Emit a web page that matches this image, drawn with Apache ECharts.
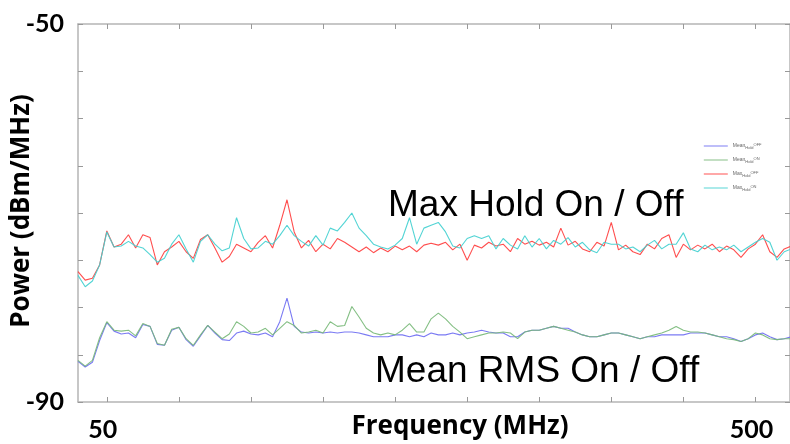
<!DOCTYPE html>
<html><head><meta charset="utf-8">
<script src="https://cdn.jsdelivr.net/npm/echarts@6/dist/echarts.min.js"></script>
<style>html,body{margin:0;padding:0;background:#fff}#c{width:790px;height:444px}</style>
</head><body><div id="c"></div>
<script>
const freq = [30,35,40,45,50,55,60,65,70,75,80,85,90,95,100,105,110,115,120,125,130,135,140,145,150,
155,160,165,170,175,180,185,190,195,200,205,210,215,220,225,230,235,240,245,250,255,260,265,270,275,
280,285,290,295,300,305,310,315,320,325,330,335,340,345,350,355,360,365,370,375,380,385,390,395,400,
405,410,415,420,425,430,435,440,445,450,455,460,465,470,475,480,485,490,495,500,505,510,515,520,525];

const meanOff = [-85.7,-86.3,-85.8,-83.5,-81.6,-82.5,-82.8,-82.7,-83.2,-81.8,-82.0,-83.9,-84.0,-82.4,-82.1,-83.4,-84.1,-83.0,-81.9,-82.7,-83.4,-83.5,-82.7,-82.5,-82.8,
-82.9,-82.7,-83.1,-81.5,-79.0,-82.0,-82.6,-82.7,-82.6,-82.7,-82.6,-82.7,-82.6,-82.6,-82.7,-82.9,-83.1,-83.1,-83.1,-82.9,-82.9,-83.1,-82.9,-83.1,-82.7,
-82.9,-82.9,-82.7,-82.9,-82.7,-82.6,-82.4,-82.6,-82.7,-82.7,-83.1,-83.1,-82.6,-82.4,-82.4,-82.2,-82.0,-82.2,-82.2,-82.6,-82.9,-83.1,-83.1,-82.9,-82.7,
-82.7,-82.9,-83.1,-83.3,-83.1,-83.1,-82.9,-82.9,-82.9,-82.9,-82.7,-82.7,-82.7,-82.9,-83.1,-83.1,-83.3,-83.6,-83.3,-82.9,-82.7,-83.1,-83.4,-83.3,-83.1];

const meanOn = [-85.6,-86.2,-85.6,-83.2,-81.5,-82.4,-82.5,-82.4,-83.0,-81.7,-82.0,-83.8,-84.0,-82.3,-82.1,-83.3,-84.0,-82.9,-81.9,-82.6,-83.3,-82.8,-81.5,-82.0,-82.7,
-82.6,-82.2,-82.9,-82.2,-81.5,-81.9,-82.7,-82.6,-82.4,-82.7,-81.5,-82.0,-81.9,-79.9,-81.0,-82.2,-82.7,-82.9,-82.7,-82.9,-82.4,-81.7,-82.6,-82.6,-81.2,
-80.6,-81.2,-82.0,-82.6,-83.3,-83.1,-82.9,-82.7,-82.7,-82.6,-82.7,-83.3,-82.6,-82.4,-82.4,-82.2,-82.0,-82.2,-82.4,-82.6,-82.9,-83.1,-83.1,-82.9,-82.7,
-82.7,-82.9,-83.1,-83.3,-83.1,-82.9,-82.7,-82.4,-82.0,-82.4,-82.6,-82.6,-82.7,-82.9,-83.1,-83.3,-83.4,-83.6,-83.3,-82.7,-82.9,-83.3,-83.4,-83.3,-83.3];

const maxOff = [-76.2,-77.1,-76.9,-75.5,-71.9,-73.6,-73.3,-72.3,-73.7,-72.3,-72.6,-75.5,-74.1,-73.6,-73.0,-74.1,-74.8,-72.8,-72.3,-73.7,-75.2,-74.6,-73.3,-73.7,-74.1,
-73.1,-72.4,-73.7,-71.3,-68.6,-72.0,-73.7,-72.9,-74.1,-73.3,-73.8,-72.7,-73.1,-73.6,-74.1,-73.6,-74.2,-73.7,-74.1,-73.5,-73.9,-73.5,-74.1,-73.4,-73.2,
-73.4,-73.1,-73.9,-73.3,-75.0,-73.4,-73.7,-73.1,-73.5,-73.3,-74.1,-72.7,-73.3,-73.0,-73.4,-73.1,-73.6,-71.6,-73.4,-73.0,-73.8,-74.1,-73.1,-73.5,-71.0,
-73.9,-73.4,-74.1,-74.4,-73.3,-73.8,-72.7,-72.3,-74.7,-73.3,-73.9,-73.4,-73.8,-73.3,-74.1,-73.5,-73.9,-74.7,-73.8,-73.3,-72.3,-74.1,-74.7,-73.8,-73.5];

const maxOn = [-76.6,-77.8,-77.2,-75.5,-72.0,-73.6,-73.5,-73.0,-73.5,-73.7,-74.4,-75.2,-74.8,-73.3,-72.3,-73.8,-75.2,-73.0,-72.3,-73.3,-74.0,-73.7,-70.5,-72.7,-73.8,
-73.7,-73.0,-73.3,-72.4,-71.3,-72.4,-73.0,-73.5,-72.4,-73.4,-71.6,-71.9,-71.0,-70.0,-71.6,-72.4,-73.3,-73.6,-73.8,-73.4,-72.7,-70.5,-73.3,-71.6,-71.3,
-71.0,-72.0,-73.5,-73.7,-72.7,-72.4,-72.7,-72.4,-73.8,-72.7,-73.4,-73.8,-72.4,-73.6,-72.7,-73.8,-72.9,-73.3,-72.6,-73.6,-73.1,-73.9,-74.2,-73.1,-73.3,
-73.3,-73.8,-73.6,-74.1,-73.4,-72.9,-73.8,-73.3,-73.3,-72.1,-73.8,-74.1,-73.4,-73.9,-73.6,-73.9,-73.4,-74.1,-73.6,-73.1,-72.7,-73.1,-75.0,-74.1,-73.8];

const xTickValues = [50,100,150,200,250,300,350,400,450,500];
const xLabelValues = [50,500];
const yLabelValues = [-90,-50];
const seriesNames = ['MeanOFF','MeanON','MaxOFF','MaxON'];
const legendLabels = {
  MeanOFF: 'Mean{s|Hold}{p|OFF}',
  MeanON: 'Mean{s|Hold}{p|ON}',
  MaxOFF: 'Max{s|Hold}{p|OFF}',
  MaxON: 'Max{s|Hold}{p|ON}'
};

const chart = echarts.init(document.getElementById('c'), null, {renderer:'canvas'});
function mk(name, vals, color) {
  return {
    name, type:'line', symbol:'none', showSymbol:false, animation:false,
    data: freq.map((f,i)=>[f, vals[i]]),
    lineStyle:{color, width:1.1, opacity:0.9},
    itemStyle:{color}
  };
}
const tickStyle = {show:true, inside:true, length:5, lineStyle:{color:'#999', width:1}};
const lineStyle = {show:true, lineStyle:{color:'#b5b5b5', width:1.5}};
const labelFont = {fontFamily:'Lato', fontWeight:'bold', fontSize:25, color:'#000'};

chart.setOption({
  animation:false,
  backgroundColor:'#fff',
  grid:{left:78, top:24, width:712, bottom:42, containLabel:false},
  legend:{
    orient:'vertical', left:698, top:137, itemWidth:24, itemHeight:10, itemGap:6,
    data: seriesNames,
    itemStyle:{opacity:0},
    lineStyle:{width:1.6, opacity:0.55},
    formatter: n => legendLabels[n],
    textStyle:{fontSize:5, color:'#666', fontFamily:'Liberation Sans',
      rich:{s:{fontSize:4, color:'#666', verticalAlign:'bottom', padding:[3,0,0,0]}, p:{fontSize:4, color:'#666', verticalAlign:'top', padding:[0,0,3,0]}}}
  },
  xAxis:[
    {type:'value', min:30, max:524, position:'bottom', axisLine:lineStyle,
     axisTick:Object.assign({customValues:xTickValues}, tickStyle),
     axisLabel:Object.assign({customValues:xLabelValues, margin:15, padding:[0,8,0,0]}, labelFont),
     splitLine:{show:false}},
    {type:'value', min:30, max:524, position:'top', axisLine:lineStyle,
     axisTick:Object.assign({customValues:xTickValues}, tickStyle),
     axisLabel:{show:false}, splitLine:{show:false}}
  ],
  yAxis:[
    {type:'value', min:-90, max:-50, interval:5, position:'left', axisLine:lineStyle,
     axisTick:tickStyle,
     axisLabel:Object.assign({customValues:yLabelValues, margin:14}, labelFont),
     splitLine:{show:false}},
    {type:'value', min:-90, max:-50, interval:5, position:'right', axisLine:lineStyle,
     axisTick:tickStyle, axisLabel:{show:false}, splitLine:{show:false}}
  ],
  graphic:[
    {type:'text', x:388, y:206, style:{text:'Max Hold On / Off', font:'37px "Liberation Sans"', fill:'#000', align:'left', verticalAlign:'middle'}},
    {type:'text', x:375, y:372, style:{text:'Mean RMS On / Off', font:'37px "Liberation Sans"', fill:'#000', align:'left', verticalAlign:'middle'}},
    {type:'text', x:460, y:427, style:{text:'Frequency (MHz)', font:'bold 26px "Open Sans"', fill:'#000', align:'center', verticalAlign:'middle'}},
    {type:'text', x:22, y:211, rotation:Math.PI/2, style:{text:'Power (dBm/MHz)', font:'bold 26px "Open Sans"', fill:'#000', align:'center', verticalAlign:'middle'}}
  ],
  series:[
    mk('MeanOFF', meanOff, '#6b6bf2'),
    mk('MeanON', meanOn, '#77b877'),
    mk('MaxOFF', maxOff, '#ff3b3b'),
    mk('MaxON', maxOn, '#3fcfcf')
  ]
});
</script></body></html>
